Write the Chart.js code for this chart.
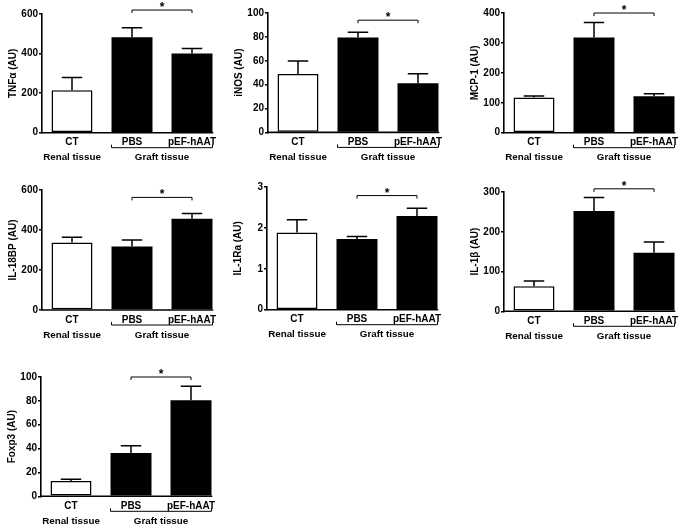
<!DOCTYPE html>
<html><head><meta charset="utf-8">
<script src="https://cdn.jsdelivr.net/npm/chart.js@4.4.0/dist/chart.umd.min.js"></script>
<style>
html,body{margin:0;padding:0;background:#fff;width:685px;height:526px;overflow:hidden;position:relative;}
canvas{position:absolute;}
</style></head><body>
<script>
// ---- data ----
const categories = ['CT', 'PBS', 'pEF-hAAT'];
const groupLabels = ['Renal tissue', 'Graft tissue'];
const titles = ['TNFα (AU)', 'iNOS (AU)', 'MCP-1 (AU)', 'IL-18BP (AU)', 'IL-1Ra (AU)', 'IL-1β (AU)', 'Foxp3 (AU)'];
const tnfMean = [215, 482, 400];   const tnfSem = [64, 49, 25];
const inosMean = [48.9, 79.5, 41.2]; const inosSem = [10.9, 4.3, 8.0];
const mcpMean = [118, 318, 122];   const mcpSem = [5, 50, 8];
const il18Mean = [337, 317, 456];  const il18Sem = [27, 33, 27];
const il1raMean = [1.89, 1.73, 2.29]; const il1raSem = [0.31, 0.06, 0.19];
const il1bMean = [63, 252, 147];   const il1bSem = [13, 34, 27];
const foxMean = [12.8, 36.3, 80.5]; const foxSem = [1.4, 6.0, 11.7];
const yMax = [600, 100, 400, 600, 3, 300, 100];
const yStep = [200, 20, 100, 200, 1, 100, 20];
const sigLevel = [620, 94, 400, 563, 2.79, 308, 100];

// ---- layout ----
const FONT = '"Liberation Sans", Arial, Helvetica, sans-serif';
const panels = [
  {axisX: 42,  topY: 14,    zeroY: 132.7, mean: tnfMean,  sem: tnfSem},
  {axisX: 268, topY: 13.3,  zeroY: 132.7, mean: inosMean, sem: inosSem},
  {axisX: 504, topY: 13,    zeroY: 132.7, mean: mcpMean,  sem: mcpSem},
  {axisX: 42,  topY: 190,   zeroY: 310,   mean: il18Mean, sem: il18Sem},
  {axisX: 267, topY: 187.3, zeroY: 310,   mean: il1raMean, sem: il1raSem},
  {axisX: 504, topY: 191.7, zeroY: 311,   mean: il1bMean, sem: il1bSem},
  {axisX: 41,  topY: 376.7, zeroY: 496,   mean: foxMean,  sem: foxSem}
];

const decorPlugin = {
  id: 'decor',
  afterDatasetsDraw(chart, args, opts) {
    const ctx = chart.ctx;
    const ys = chart.scales.y;
    const meta = chart.getDatasetMeta(0);
    const bars = meta.data;
    const mean = chart.data.datasets[0].data;
    const sem = opts.sem;
    const y0 = ys.getPixelForValue(0);
    ctx.save();
    ctx.strokeStyle = '#000';
    ctx.fillStyle = '#000';
    // error bars
    ctx.lineWidth = 1.5;
    bars.forEach((b, i) => {
      const yt = ys.getPixelForValue(mean[i]);
      const ye = ys.getPixelForValue(mean[i] + sem[i]);
      const hw = b.width / 4;
      ctx.beginPath();
      ctx.moveTo(b.x, yt); ctx.lineTo(b.x, ye);
      ctx.moveTo(b.x - hw, ye); ctx.lineTo(b.x + hw, ye);
      ctx.stroke();
    });
    // baseline (x axis)
    const last = bars[bars.length - 1];
    ctx.lineWidth = 1.6;
    ctx.beginPath();
    ctx.moveTo(chart.chartArea.left - 0.8, y0);
    ctx.lineTo(last.x + last.width / 2 + 0.75, y0);
    ctx.stroke();
    // significance bracket
    const ys2 = ys.getPixelForValue(opts.sig);
    ctx.lineWidth = 1;
    ctx.beginPath();
    ctx.moveTo(bars[1].x, ys2 + 3); ctx.lineTo(bars[1].x, ys2);
    ctx.lineTo(bars[2].x, ys2); ctx.lineTo(bars[2].x, ys2 + 3);
    ctx.stroke();
    ctx.font = 'bold 12px ' + FONT;
    ctx.textAlign = 'center';
    ctx.textBaseline = 'alphabetic';
    ctx.fillText('*', (bars[1].x + bars[2].x) / 2, ys2 + 1);
    // group bracket
    const gy = y0 + 15;
    const gl = bars[1].x - bars[1].width / 2;
    const gr = bars[2].x + bars[2].width / 2;
    ctx.beginPath();
    ctx.moveTo(gl, gy - 3); ctx.lineTo(gl, gy); ctx.lineTo(gr, gy); ctx.lineTo(gr, gy - 3);
    ctx.stroke();
    ctx.font = 'bold 9.8px ' + FONT;
    ctx.textBaseline = 'middle';
    ctx.fillText(groupLabels[0], bars[0].x, y0 + 25);
    ctx.fillText(groupLabels[1], (gl + gr) / 2, y0 + 25);
    ctx.restore();
  }
};

panels.forEach((p, k) => {
  const padT = 16;
  const plotH = p.zeroY - p.topY;
  const W = 225, H = Math.round(plotH + padT + 34);
  const cv = document.createElement('canvas');
  cv.width = W; cv.height = H;
  cv.style.width = W + 'px'; cv.style.height = H + 'px';
  cv.style.left = (p.axisX - 42) + 'px';
  cv.style.top = (p.topY - padT) + 'px';
  document.body.appendChild(cv);
  new Chart(cv, {
    type: 'bar',
    data: {
      labels: categories,
      datasets: [{
        data: p.mean,
        backgroundColor: ['#ffffff', '#000000', '#000000'],
        borderColor: '#000',
        borderWidth: [1.5, 0, 0],
        borderSkipped: false,
        barPercentage: 0.683,
        categoryPercentage: 1
      }]
    },
    options: {
      responsive: false,
      animation: false,
      devicePixelRatio: 1,
      layout: {padding: {left: 0, top: padT, right: W - 222, bottom: 0}},
      plugins: {
        legend: {display: false},
        tooltip: {enabled: false},
        decor: {sem: p.sem, sig: sigLevel[k]}
      },
      scales: {
        x: {
          type: 'category',
          offset: true,
          grid: {display: false, drawTicks: false},
          border: {display: false},
          ticks: {color: '#000', font: {family: FONT, size: 10, weight: 'bold'}, padding: 4, maxRotation: 0, autoSkip: false},
          afterFit(s) { s.height = H - padT - plotH; }
        },
        y: {
          min: 0, max: yMax[k],
          ticks: {stepSize: yStep[k], color: '#000', font: {family: FONT, size: 10, weight: 'bold'}, padding: 1},
          grid: {display: true, drawOnChartArea: false, drawTicks: true, tickLength: 3, color: '#000', lineWidth: 1.5},
          border: {display: true, color: '#000', width: 1.6},
          title: {display: true, text: titles[k], color: '#000', font: {family: FONT, size: 10, weight: 'bold'}, padding: {top: 7, bottom: 0}},
          afterFit(s) { s.width = 42; }
        }
      }
    },
    plugins: [decorPlugin]
  });
});
</script>
</body></html>
